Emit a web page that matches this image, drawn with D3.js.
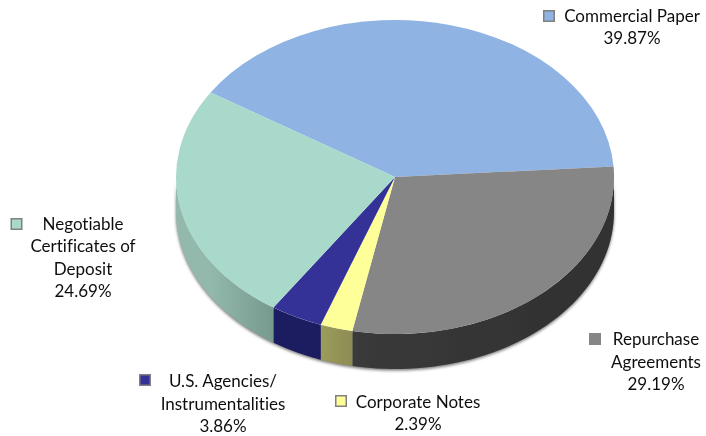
<!DOCTYPE html>
<html><head><meta charset="utf-8">
<script src="https://cdn.jsdelivr.net/npm/d3@7/dist/d3.min.js"></script>
<style>html,body{margin:0;padding:0;background:#fff}svg{display:block}text{font-family:Lato,"Open Sans",sans-serif;font-size:17px;fill:#111;font-variant-ligatures:none}</style>
</head><body>
<svg id="c" width="706" height="436"></svg>
<script>
const categories=["Commercial Paper","Repurchase Agreements","Corporate Notes","U.S. Agencies/ Instrumentalities","Negotiable Certificates of Deposit"];
const values=[39.87,29.19,2.39,3.86,24.69];
const topColors=["#8fb4e3","#868686","#ffff99","#343397","#a9d9cb"];
const sideStart=["#647e9f","#3a3a3a","#9c9c5c","#1c1b60","#93b8ac"];
const sideEnd=["#647e9f","#303030","#8c8c54","#1c1b60","#769a8e"];
const swatchStroke=["#808080","#868686","#808080","#808080","#808080"];
const labelLines=[["Commercial Paper","39.87%"],["Repurchase","Agreements","29.19%"],["Corporate Notes","2.39%"],["U.S. Agencies/","Instrumentalities","3.86%"],["Negotiable","Certificates of","Deposit","24.69%"]];
const labelX=[632,656,418,223,83];
const labelY=[22,345,408,387,230];
const swatchX=[549,595,341,145,16.5];
const swatchY=[16,339,401,380,224];
const lineStep=[22,22.5,22,22.5,22.3];

const cx=395,cy=177,rx=219,ry=157,depth=35,start=-57.4*Math.PI/180,swatchSize=10.5;
const svg=d3.select("#c"),defs=svg.append("defs");
const f=defs.append("filter").attr("id","soft").attr("filterUnits","userSpaceOnUse").attr("x",0).attr("y",0).attr("width",706).attr("height",436);
f.append("feGaussianBlur").attr("stdDeviation",0.4);
const sh=defs.append("filter").attr("id","sh").attr("x","-5%").attr("y","-5%").attr("width","110%").attr("height","115%");
sh.append("feGaussianBlur").attr("stdDeviation",1.6);
const root=svg.append("g").attr("filter","url(#soft)");

const pie=d3.pie().sort(null).startAngle(start).endAngle(start+2*Math.PI)(values);
const px=d3.scaleLinear().domain([-1,1]).range([cx-rx,cx+rx]);
const py=d3.scaleLinear().domain([-1,1]).range([cy-ry,cy+ry]);
const X=a=>px(Math.sin(a)),Y=a=>py(-Math.cos(a));

pie.forEach((d,i)=>{
  const g=defs.append("linearGradient").attr("id","side"+i).attr("gradientUnits","userSpaceOnUse")
    .attr("x1",X(d.startAngle)).attr("x2",X(d.endAngle)).attr("y1",0).attr("y2",0);
  g.append("stop").attr("offset",0).attr("stop-color",sideEnd[i]);
  g.append("stop").attr("offset",1).attr("stop-color",sideStart[i]);
});

// visible wall: lower half of the rim only
const lo=Math.PI/2,hi=3*Math.PI/2;
const wall=d=>{
  const a0=Math.max(d.startAngle<0?d.startAngle+2*Math.PI:d.startAngle,lo);
  let a1=d.endAngle<0?d.endAngle+2*Math.PI:d.endAngle;
  if(d.startAngle<lo&&d.endAngle>lo)a1=d.endAngle;
  a1=Math.min(a1,hi);
  if(a1<=a0)return null;
  return d3.range(0,49).map(k=>a0+(a1-a0)*k/48);
};
const wallArea=d3.area().x(a=>X(a)).y0(a=>Y(a)).y1(a=>Y(a)+depth);

// soft shadow under the rim
const rim=d3.range(0,97).map(k=>lo+(hi-lo)*k/96);
root.append("path").attr("d",wallArea(rim)).attr("fill","#777").attr("filter","url(#sh)").attr("transform","translate(0,1.5)");

pie.forEach((d,i)=>{
  const w=wall(d);
  if(w)root.append("path").attr("d",wallArea(w)).attr("fill","url(#side"+i+")");
});

const arc=d3.arc().innerRadius(0).outerRadius(1);
const topG=root.append("g").attr("transform",`translate(${cx},${cy}) scale(${rx},${ry})`);
topG.selectAll("path").data(pie).join("path").attr("d",arc).attr("fill",(d,i)=>topColors[i]);

root.selectAll("rect.k").data(categories).join("rect").attr("class","k")
  .attr("x",(d,i)=>swatchX[i]-swatchSize/2).attr("y",(d,i)=>swatchY[i]-swatchSize/2).attr("width",swatchSize).attr("height",swatchSize)
  .attr("fill",(d,i)=>topColors[i]).attr("stroke",(d,i)=>swatchStroke[i]).attr("stroke-width",1.5);

labelLines.forEach((ls,i)=>{
  const t=root.append("text").attr("text-anchor","middle");
  ls.forEach((s,j)=>t.append("tspan").attr("x",labelX[i]).attr("y",labelY[i]+j*lineStep[i]).text(s));
});
</script>
</body></html>
